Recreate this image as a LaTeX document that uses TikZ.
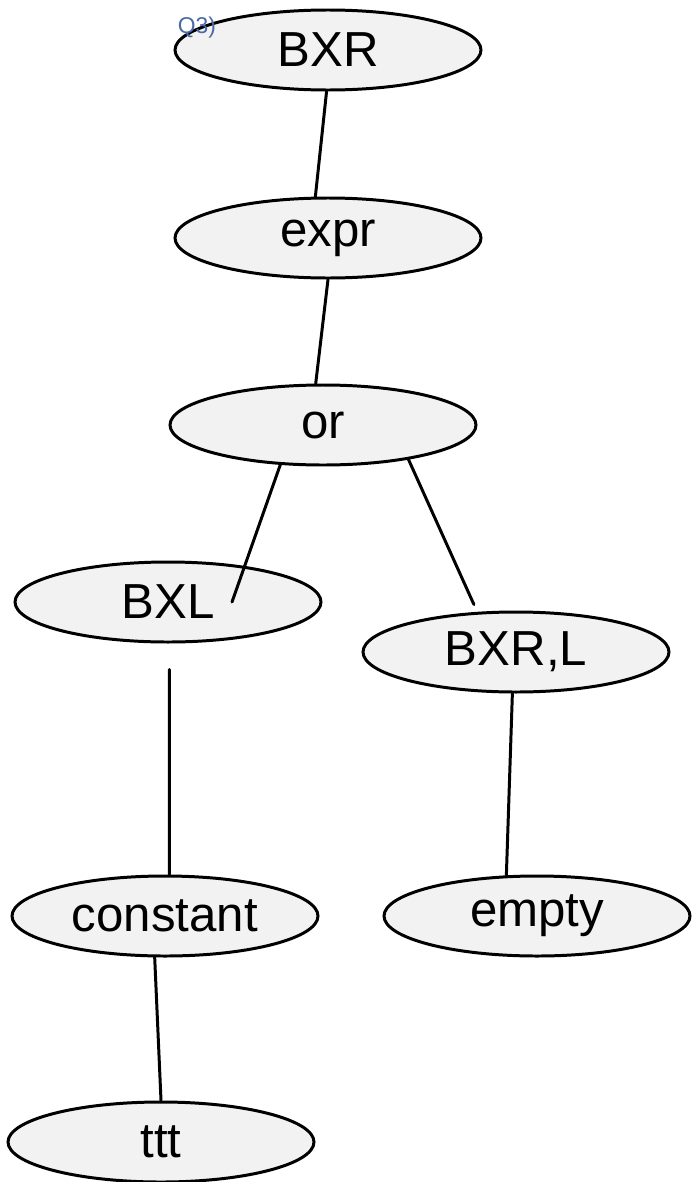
\documentclass[tikz,border=0pt]{standalone}
\usepackage{fontspec}
\setmainfont{Liberation Sans}
\usetikzlibrary{shapes.geometric}
\definecolor{nodefill}{HTML}{F2F2F2}
\definecolor{penblue}{HTML}{4A6AA8}
\begin{document}
\begin{tikzpicture}[tok/.style={ellipse, draw, fill=nodefill, line width=1.7pt, minimum width=6.12cm, minimum height=1.6cm, inner sep=0pt, font=\fontsize{28}{32}\selectfont},
    every path/.style={line width=1.7pt, line cap=round}]
      \useasboundingbox (0,0) rectangle (13.82,-23.64);

      \node[tok] (bxr) at (6.56,-1.00) {BXR};
      \node[tok] (expr) at (6.56,-4.76) {expr};
      \node[tok] (or) at (6.46,-8.50) {or};
      \node[tok] (bxl) at (3.36,-12.04) {BXL};
      \node[tok] (bxrl) at (10.32,-13.04) {BXR,L};
      \node[tok] (constant) at (3.30,-18.32) {constant};
      \node[tok] (empty) at (10.74,-18.32) {empty};
      \node[tok] (ttt) at (3.22,-22.84) {ttt};

      \node[text=penblue, font=\fontsize{13}{15}\selectfont] (q3) at (3.94,-0.56) {Q3)};

      \draw (bxr.268) -- (expr.107);
      \draw (expr.south) -- (or.100);
      \draw (or.223) -- ([xshift=1.28cm]bxl.center);
      \draw[shorten >=0.16cm] (or.338) -- (bxrl.134);
      \draw[shorten <=0.52cm] (bxl.272) -- (constant.84);
      \draw (bxrl.265) -- (empty.127);
      \draw (constant.256) -- (ttt.north);

    \end{tikzpicture}
\end{document}
